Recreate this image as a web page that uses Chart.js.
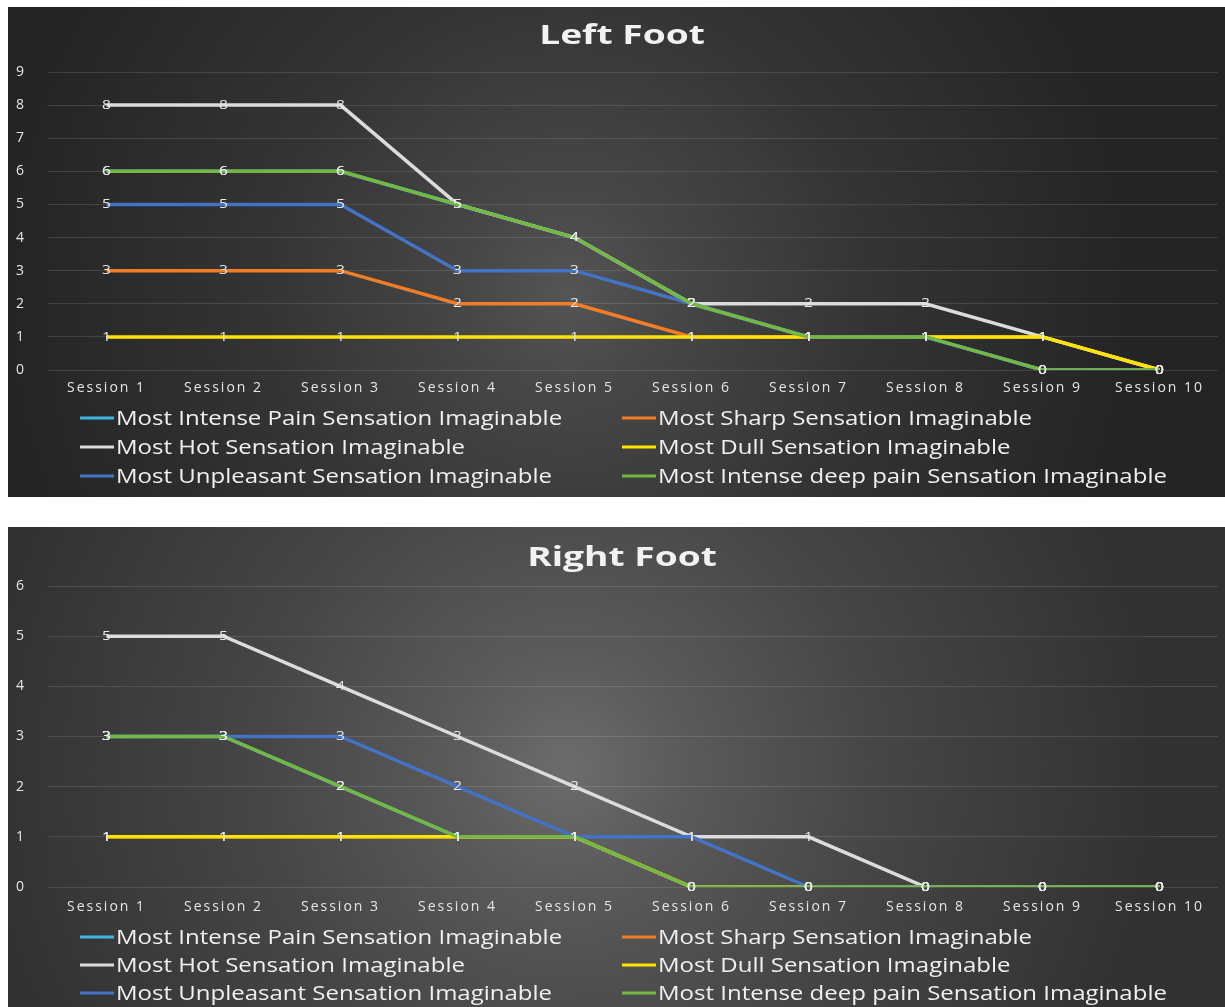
<!DOCTYPE html>
<html>
<head>
<meta charset="utf-8">
<script src="https://cdn.jsdelivr.net/npm/chart.js@4.4.1/dist/chart.umd.min.js"></script>
<style>
  body { margin: 0; background: #fff; width: 1225px; height: 1007px; position: relative; overflow: hidden; }
  .panel { position: absolute; left: 8px; width: 1217px; }
  #panel-izq { top: 7px; height: 490px; background: radial-gradient(circle at 46% 58%, #555 0%, #474747 14%, #343434 42%, #242424 80%); }
  #panel-der { top: 527px; height: 480px; background: radial-gradient(circle at 46% 50%, #6c6c6c 0%, #5a5a5a 17%, #464646 44%, #313131 85%); }
  canvas { display: block; }
</style>
</head>
<body>
<div class="panel" id="panel-izq"><canvas id="izq" width="1217" height="490"></canvas></div>
<div class="panel" id="panel-der"><canvas id="der" width="1217" height="480"></canvas></div>
<script>
const sesiones = ['Session 1', 'Session 2', 'Session 3', 'Session 4', 'Session 5',
  'Session 6', 'Session 7', 'Session 8', 'Session 9', 'Session 10'];

const series = [
  'Most Intense Pain Sensation Imaginable',
  'Most Sharp Sensation Imaginable',
  'Most Hot Sensation Imaginable',
  'Most Dull Sensation Imaginable',
  'Most Unpleasant Sensation Imaginable',
  'Most Intense deep pain Sensation Imaginable'
];
const colores = ['#41b4e6', '#f07d28', '#dcdcdc', '#ffe400', '#4472c4', '#74b843'];

// Left foot
const izqIntensePain = [6, 6, 6, 5, 4, 2, 1, 1, 0, 0];
const izqSharp = [3, 3, 3, 2, 2, 1, 1, 1, 1, 0];
const izqHot = [8, 8, 8, 5, 4, 2, 2, 2, 1, 0];
const izqDull = [1, 1, 1, 1, 1, 1, 1, 1, 1, 0];
const izqUnpleasant = [5, 5, 5, 3, 3, 2, 1, 1, 0, 0];
const izqDeepPain = [6, 6, 6, 5, 4, 2, 1, 1, 0, 0];

// Right foot
const derIntensePain = [3, 3, 2, 1, 1, 0, 0, 0, 0, 0];
const derSharp = [1, 1, 1, 1, 1, 0, 0, 0, 0, 0];
const derHot = [5, 5, 4, 3, 2, 1, 1, 0, 0, 0];
const derDull = [1, 1, 1, 1, 1, 0, 0, 0, 0, 0];
const derUnpleasant = [3, 3, 3, 2, 1, 1, 0, 0, 0, 0];
const derDeepPain = [3, 3, 2, 1, 1, 0, 0, 0, 0, 0];

const FUENTE = '"Open Sans", sans-serif';

// ticks un poco mas anchos, como en el original
const espaciadoPlugin = {
  id: 'espaciado',
  beforeDraw(chart) {
    chart.ctx.letterSpacing = '2px';
  }
};

// valores encima de cada punto
const etiquetasPlugin = {
  id: 'etiquetas',
  afterDatasetsDraw(chart) {
    const ctx = chart.ctx;
    ctx.save();
    ctx.letterSpacing = '0px';
    ctx.font = '13px ' + FUENTE;
    ctx.fillStyle = '#e8e8e8';
    ctx.textAlign = 'center';
    ctx.textBaseline = 'middle';
    chart.data.datasets.forEach((ds, i) => {
      const meta = chart.getDatasetMeta(i);
      meta.data.forEach((pt, j) => {
        ctx.save();
        ctx.translate(pt.x, pt.y);
        ctx.scale(1.2, 1);
        ctx.fillText(String(ds.data[j]), 0, 0);
        ctx.restore();
      });
    });
    ctx.restore();
  }
};

// titulo estirado a lo ancho
const tituloPlugin = {
  id: 'tituloPie',
  afterDraw(chart, args, opts) {
    const ctx = chart.ctx;
    ctx.save();
    ctx.letterSpacing = '0px';
    ctx.font = 'bold 26px ' + FUENTE;
    ctx.fillStyle = '#f2f2f2';
    ctx.textBaseline = 'middle';
    ctx.textAlign = 'center';
    ctx.translate(opts.centro, opts.y);
    ctx.scale(1.43, 1);
    ctx.fillText(opts.texto, 0, 0);
    ctx.restore();
  }
};

// leyenda en dos columnas
const leyendaPlugin = {
  id: 'leyenda',
  afterDraw(chart, args, opts) {
    const ctx = chart.ctx;
    const cols = [72, 614];
    ctx.save();
    ctx.letterSpacing = '0px';
    ctx.font = '20px ' + FUENTE;
    ctx.textBaseline = 'middle';
    ctx.textAlign = 'left';
    chart.data.datasets.forEach((ds, i) => {
      const x = cols[i % 2];
      const y = opts.filas[Math.floor(i / 2)];
      ctx.strokeStyle = ds.borderColor;
      ctx.lineWidth = 3;
      ctx.beginPath();
      ctx.moveTo(x, y);
      ctx.lineTo(x + 34, y);
      ctx.stroke();
      ctx.save();
      ctx.fillStyle = '#f0f0f0';
      ctx.translate(x + 36, y + 1);
      ctx.scale(1.2, 1);
      ctx.fillText(ds.label, 0, 0);
      ctx.restore();
    });
    ctx.restore();
  }
};

function crearGrafico(canvas, titulo, datos, maxY, aj) {
  return new Chart(canvas, {
    type: 'line',
    data: {
      labels: sesiones,
      datasets: series.map((nombre, i) => ({
        label: nombre,
        data: datos[i],
        borderColor: colores[i],
        backgroundColor: colores[i],
        borderWidth: 3.5,
        pointRadius: 0,
        tension: 0,
        order: series.length - i
      }))
    },
    options: {
      responsive: false,
      animation: false,
      layout: { padding: { left: 0, right: 7, top: aj.arriba, bottom: aj.abajo } },
      plugins: {
        legend: { display: false },
        tooltip: { enabled: false },
        title: { display: false },
        tituloPie: { texto: titulo, centro: 614, y: aj.tituloY },
        leyenda: { filas: aj.filas }
      },
      scales: {
        x: {
          offset: true,
          grid: { display: false, drawTicks: false },
          border: { display: false },
          ticks: { color: '#e6e6e6', font: { family: FUENTE, size: 14 }, padding: aj.padX, minRotation: 0, maxRotation: 0, autoSkip: false },
          afterFit: s => { s.height = 30; }
        },
        y: {
          min: 0,
          max: maxY,
          grid: { color: 'rgba(255,255,255,0.12)', drawTicks: false },
          border: { display: false },
          ticks: { stepSize: 1, color: '#e6e6e6', font: { family: FUENTE, size: 14 }, padding: 22 },
          afterFit: s => { s.width = 40; }
        }
      }
    },
    plugins: [espaciadoPlugin, etiquetasPlugin, tituloPlugin, leyendaPlugin]
  });
}

crearGrafico(document.getElementById('izq'), 'Left Foot',
  [izqIntensePain, izqSharp, izqHot, izqDull, izqUnpleasant, izqDeepPain], 9,
  { arriba: 65, abajo: 97, padX: 10, tituloY: 30, filas: [411, 440, 469] });

crearGrafico(document.getElementById('der'), 'Right Foot',
  [derIntensePain, derSharp, derHot, derDull, derUnpleasant, derDeepPain], 6,
  { arriba: 59, abajo: 90, padX: 12, tituloY: 32, filas: [410, 438, 466] });
</script>
</body>
</html>
